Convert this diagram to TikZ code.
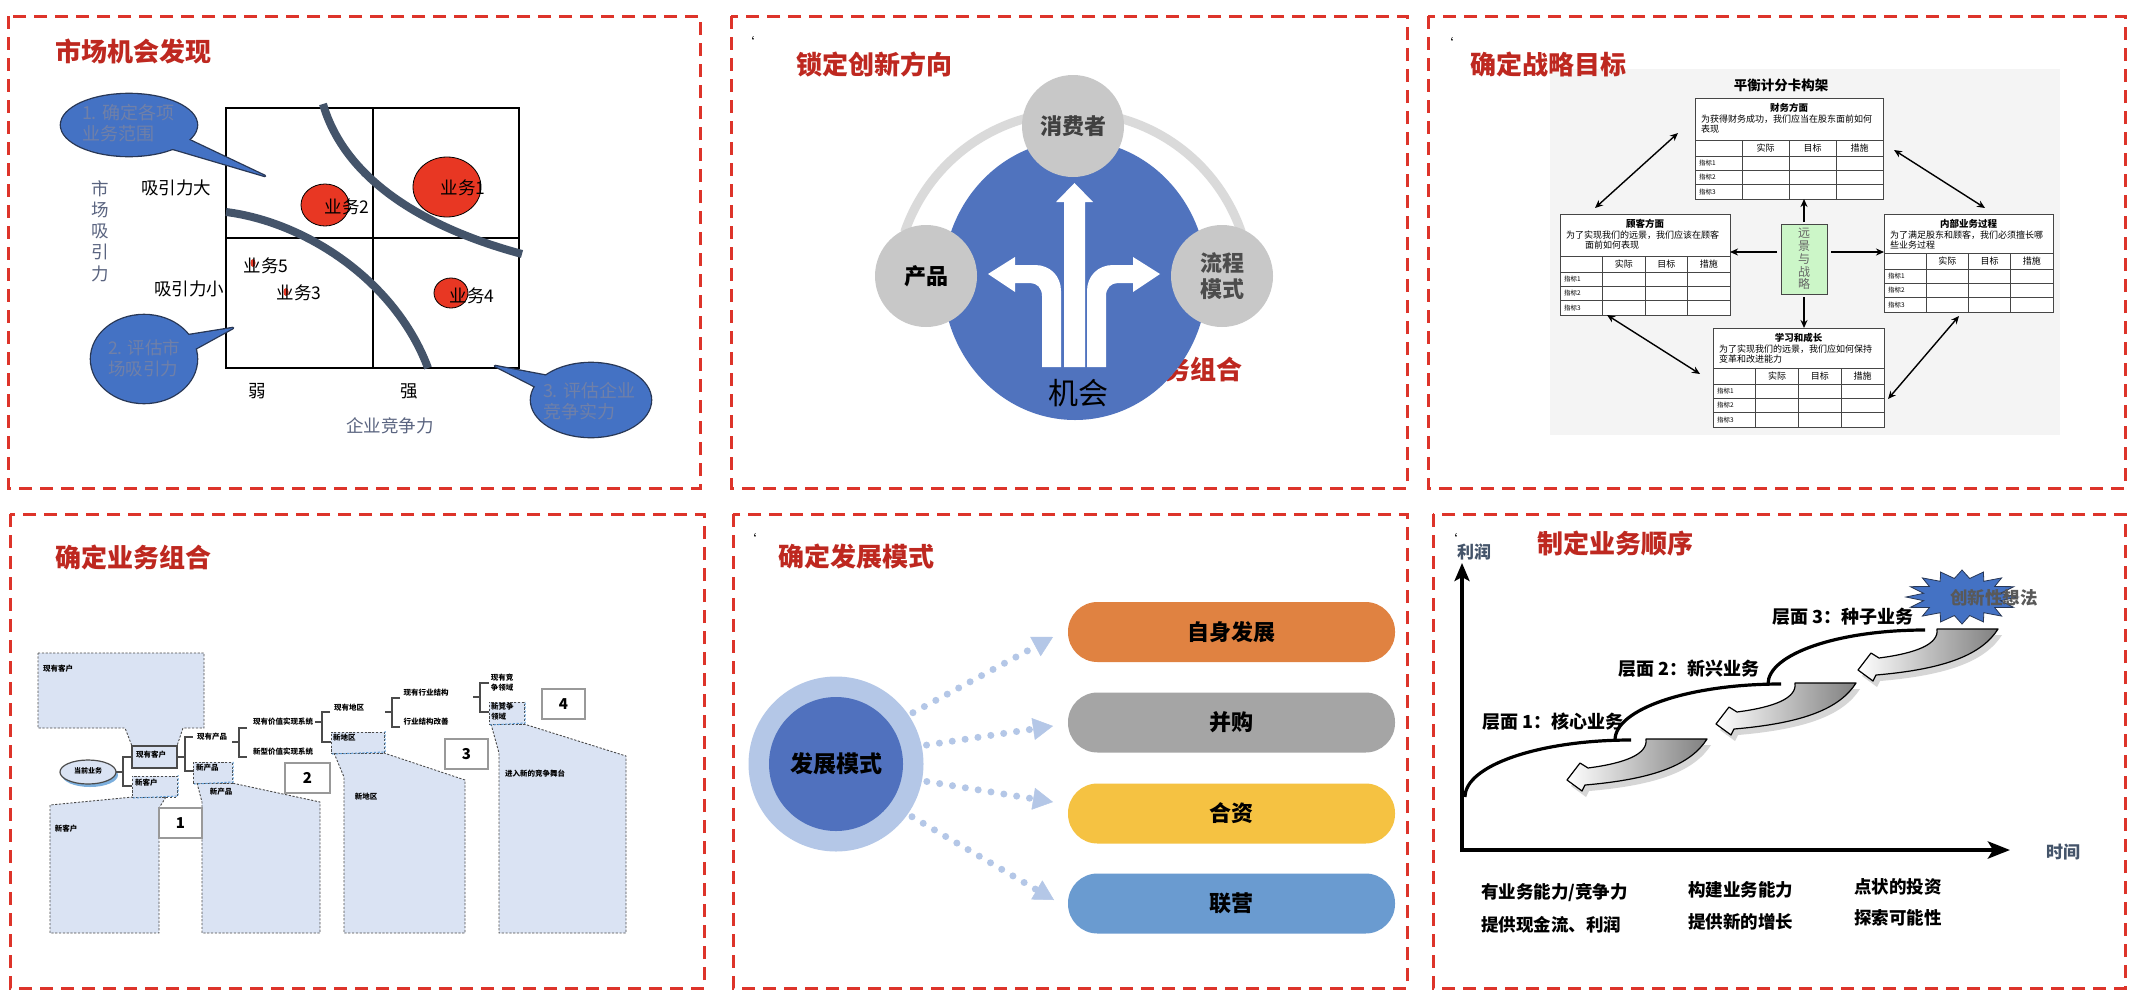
\documentclass[tikz,border=0pt]{standalone}
\usepackage{fontspec}
\setmainfont{Noto Sans CJK SC}
\usetikzlibrary{arrows.meta}
\definecolor{dashred}{RGB}{221,52,42}
\definecolor{ttlred}{RGB}{190,40,32}
\definecolor{slate}{RGB}{68,84,106}
\definecolor{slatetxt}{RGB}{90,100,128}
\definecolor{bubblue}{RGB}{68,114,196}
\definecolor{bubline}{RGB}{40,55,85}
\definecolor{bubtxt}{RGB}{112,128,168}
\definecolor{bizred}{RGB}{232,55,35}
\definecolor{oppblue}{RGB}{80,115,190}
\definecolor{cgray}{RGB}{200,200,200}
\definecolor{arcgray}{RGB}{218,218,218}
\definecolor{bscbg}{RGB}{244,244,244}
\definecolor{bscline}{RGB}{70,70,70}
\definecolor{bscgreen}{RGB}{204,246,200}
\definecolor{lblue}{RGB}{218,227,243}
\definecolor{dline}{RGB}{75,75,75}
\definecolor{edgeblue}{RGB}{91,155,213}
\definecolor{ringblue}{RGB}{180,199,231}
\definecolor{coreblue}{RGB}{80,113,190}
\definecolor{porange}{RGB}{224,130,65}
\definecolor{pgray}{RGB}{165,165,165}
\definecolor{pyellow}{RGB}{245,194,66}
\definecolor{pblue}{RGB}{106,155,208}
\definecolor{burst}{RGB}{68,114,196}
\newcommand\fs[1]{\fontsize{#1}{#1}\selectfont}
\newcommand\bscbox[7]{%
  \node[draw=bscline, line width=1pt, fill=white, anchor=north west,
        minimum width=#3pt, minimum height={(#4+59)*1pt}] (#5) at (#1,#2) {};
  \draw[bscline, line width=0.9pt]
    (#1,{#2+#4}) -- ++(#3,0)
    (#1,{#2+#4+16}) -- ++(#3,0)
    (#1,{#2+#4+30.3}) -- ++(#3,0)
    (#1,{#2+#4+44.6}) -- ++(#3,0)
    ({#1+#3/4},{#2+#4}) -- ++(0,59)
    ({#1+#3/2},{#2+#4}) -- ++(0,59)
    ({#1+3*#3/4},{#2+#4}) -- ++(0,59);
  \node[font=\bfseries\fs{9.5}] at ({#1+#3/2},{#2+10}) {#6};
  \node[font=\fontsize{9}{10.5}\selectfont, anchor=north west, align=left] at ({#1+6},{#2+16.5}) {#7};
  \node[font=\fs{9}] at ({#1+3*#3/8},{#2+#4+8}) {实际};
  \node[font=\fs{9}] at ({#1+5*#3/8},{#2+#4+8}) {目标};
  \node[font=\fs{9}] at ({#1+7*#3/8},{#2+#4+8}) {措施};
  \node[font=\fs{6.5}, anchor=west] at ({#1+4},{#2+#4+23.2}) {指标1};
  \node[font=\fs{6.5}, anchor=west] at ({#1+4},{#2+#4+37.5}) {指标2};
  \node[font=\fs{6.5}, anchor=west] at ({#1+4},{#2+#4+51.8}) {指标3};
}
\newcommand\swoop[2]{%
  \begin{scope}[shift={({#1+4},{#2+6})}]
    \fill[black!16] (0,0) -- (61,0) .. controls (45,25) and (10,40) .. (-61,46) -- (-64,52) -- (-79,41) -- (-66,24) -- (-58,29) .. controls (-20,24) and (2,15) .. (0,0) -- cycle;
  \end{scope}
  \begin{scope}[shift={(#1,#2)}]
    \shadedraw[left color=white, middle color=white, right color=black!50, draw=black, line width=1.2pt, line join=round]
      (0,0) -- (61,0) .. controls (45,25) and (10,40) .. (-61,46) -- (-64,52) -- (-79,41) -- (-66,24) -- (-58,29) .. controls (-20,24) and (2,15) .. (0,0) -- cycle;
  \end{scope}
}
\tikzset{
  panel/.style={draw=dashred, line width=3pt, dash pattern=on 13pt off 8pt},
  ttl/.style={text=ttlred, font=\bfseries\fs{26}},
  tck/.style={font=\fs{13}},
  lbl/.style={font=\fs{17.5}},
  slbl/.style={font=\fs{17.5}, text=slatetxt},
  bubtext/.style={font=\fontsize{18}{21}\selectfont, text=bubtxt, align=left, anchor=north west},
  slatecurve/.style={slate, line width=8pt},
  bizdot/.style={fill=bizred, draw=black, line width=0.8pt},
  gcirc/.style={circle, fill=cgray, minimum size=102pt, font=\bfseries\fs{22}},
  bscarrow/.style={black, line width=1.4pt, -{Stealth[length=8pt,width=7pt]}},
  bscdarrow/.style={black, line width=1.4pt, {Stealth[length=8pt,width=7pt]}-{Stealth[length=8pt,width=7pt]}},
  dsh/.style={dline, line width=0.9pt, dash pattern=on 2.2pt off 1.6pt},
  sbox/.style={draw=dline, line width=1.5pt, fill=lblue},
  dbox/.style={draw=dline, dash pattern=on 2.2pt off 1.6pt, line width=0.9pt, fill=lblue, anchor=north west},
  bedge/.style={edgeblue, line width=1pt, dash pattern=on 2.2pt off 1.6pt},
  numbox/.style={draw=black!40, line width=1.5pt, fill=white, font=\bfseries\fs{15}},
  tiny/.style={font=\bfseries\fs{7.5}},
  brk/.style={dline, line width=1.4pt},
  pill/.style={rounded corners=29.5pt, minimum width=327pt, minimum height=60pt, font=\bfseries\fs{22}},
  dotarr/.style={ringblue, line width=7pt, line cap=round, dash pattern=on 0pt off 13pt, shorten <=5pt,
     -{Triangle[length=20pt,width=22pt,line width=0.5pt]}},
  axis/.style={black, line width=4.5pt},
  lvl/.style={font=\bfseries\fs{18}},
  btm/.style={font=\bfseries\fs{17.5}, anchor=west},
}
\begin{document}
\begin{tikzpicture}[x=1pt,y=-1pt, every node/.style={inner sep=0pt, outer sep=0pt}]
\useasboundingbox (0,0) rectangle (2132,1004);
\fill[white] (0,0) rectangle (2132,1004);

% ================= panel borders
\draw[panel] (8,16) rectangle (700,488);
\draw[panel] (731,16) rectangle (1407,488);
\draw[panel] (1428,16) rectangle (2125,488);
\draw[panel] (10,514) rectangle (704,988);
\draw[panel] (733,514) rectangle (1407,988);
\draw[panel] (1433,514) rectangle (2125,988);

% ================= panel 1
\draw[line width=2pt] (226,108) rectangle (519,368);
\draw[line width=2pt] (373,108) -- (373,368) (226,238) -- (519,238);
\fill[bizred] (253,263) ellipse[x radius=2.5, y radius=4];
\fill[bizred] (286,292) ellipse[x radius=2.5, y radius=4];
\draw[bizdot] (447,187) ellipse[x radius=34, y radius=30];
\draw[bizdot] (325,205) ellipse[x radius=24, y radius=21];
\draw[bizdot] (451,293) ellipse[x radius=17, y radius=15];
\draw[slatecurve] (323,104) .. controls (345,180) and (425,228) .. (522,254);
\draw[slatecurve] (226,212) .. controls (305,222) and (395,280) .. (428,368);
\node[lbl] (b1) at (463,188) {业务1};
\node[lbl] (b2) at (347,207) {业务2};
\node[lbl] (b5) at (266,266) {业务5};
\node[lbl] (b3) at (299,293) {业务3};
\node[lbl] (b4) at (472,296) {业务4};
\node[lbl] (hi) at (176,188) {吸引力大};
\node[lbl] (lo) at (189,289) {吸引力小};
\node[lbl] (weak) at (257,391) {弱};
\node[lbl] (strong) at (409,391) {强};
\node[font=\fontsize{17.5}{21.3}\selectfont, text=slatetxt, align=center] (ya) at (100,231) {市\\场\\吸\\引\\力};
\node[slbl] (xa) at (390,426) {企业竞争力};
% bubbles
\draw[bubline, line width=2.6pt] (129,125) ellipse[x radius=68, y radius=31];
\draw[bubline, line width=2.6pt, line join=round] (185,138) -- (265,176) -- (170,148) -- cycle;
\fill[bubblue] (129,125) ellipse[x radius=68, y radius=31];
\fill[bubblue] (185,138) -- (265,176) -- (170,148) -- cycle;
\node[bubtext] (q1) at (82,104) {1. 确定各项\\业务范围};
\draw[bubline, line width=2.6pt] (144,359) ellipse[x radius=53, y radius=44];
\draw[bubline, line width=2.6pt, line join=round] (183,336) -- (233,328) -- (193,350) -- cycle;
\fill[bubblue] (144,359) ellipse[x radius=53, y radius=44];
\fill[bubblue] (183,336) -- (233,328) -- (193,350) -- cycle;
\node[bubtext, font=\fontsize{17.5}{21}\selectfont] (q2) at (108,340) {2. 评估市\\场吸引力};
\draw[bubline, line width=2.6pt] (591,400) ellipse[x radius=60, y radius=37];
\draw[bubline, line width=2.6pt, line join=round] (548,376) -- (495,366) -- (538,388) -- cycle;
\fill[bubblue] (591,400) ellipse[x radius=60, y radius=37];
\fill[bubblue] (548,376) -- (495,366) -- (538,388) -- cycle;
\node[bubtext] (q3) at (543,382) {3. 评估企业\\竞争实力};

% ================= panel 2
\node[text=ttlred, font=\bfseries\fs{26}, anchor=east] (hid) at (1242,370) {务组合};
\draw[arcgray, line width=9pt] (1073,290) ++(199:178) arc[start angle=199, end angle=341, radius=178];
\fill[oppblue] (1075,280) ellipse[x radius=132, y radius=140];
\node[gcirc, text=black!75] (cons) at (1073,126) {消费者};
\node[gcirc, text=black] (prod) at (926,276) {产品};
\node[gcirc, text=black!70, align=center, font=\bfseries\fontsize{22}{26}\selectfont] (proc) at (1222,276) {流程\\模式};
\fill[white] (1042,367) -- (1042,296) .. controls (1042,288) and (1037,283) .. (1030,283) -- (1015,283) -- (1015,292) -- (988,274) -- (1015,257) -- (1015,265) -- (1035,265) .. controls (1050,265) and (1061,276) .. (1061,291) -- (1061,367) -- cycle;
\fill[white] (1106,367) -- (1106,296) .. controls (1106,288) and (1111,283) .. (1118,283) -- (1133,283) -- (1133,292) -- (1160,274) -- (1133,257) -- (1133,265) -- (1113,265) .. controls (1098,265) and (1087,276) .. (1087,291) -- (1087,367) -- cycle;
\fill[white] (1064,367) -- (1064,202) -- (1056,202) -- (1074.5,183) -- (1093,202) -- (1085,202) -- (1085,367) -- cycle;
\node[font=\fs{30}] (opp) at (1078,393) {机会};

% ================= panel 3
\fill[bscbg] (1550,69) rectangle (2060,435);
\node[font=\bfseries\fs{13.5}] (bsct) at (1781,85) {平衡计分卡构架};
\bscbox{1695}{98}{188}{42}{fin}{财务方面}{为获得财务成功，我们应当在股东面前如何\\表现}
\bscbox{1560}{214}{170}{42}{cus}{顾客方面}{为了实现我们的远景，我们应该在顾客\\\hspace*{19pt}面前如何表现}
\bscbox{1884}{214}{169}{39}{int}{内部业务过程}{为了满足股东和顾客，我们必须擅长哪\\些业务过程}
\bscbox{1713}{328}{171}{40}{lea}{学习和成长}{为了实现我们的远景，我们应如何保持\\变革和改进能力}
\node[draw=bscline, fill=bscgreen, line width=1pt, minimum width=46pt, minimum height=70pt,
      font=\fontsize{12}{12.8}\selectfont, text=black!60, align=center] (vis) at (1804,259) {远\\景\\与\\战\\略};
\draw[bscarrow] (vis.north) ++(0,-2) -- (vis.north |- fin.south);
\draw[bscarrow] ([yshift=7pt]vis.west) ++(-4,0) -- ([yshift=7pt]vis.west -| cus.east);
\draw[bscarrow] ([yshift=7pt]vis.east) ++(4,0) -- ([yshift=7pt]vis.east -| int.west);
\draw[bscarrow] (vis.south) ++(0,3) -- (vis.south |- lea.north);
\coordinate (c1) at (1595,208); \coordinate (c2) at (1678,133);
\coordinate (c3) at (1894,150); \coordinate (c4) at (1985,208);
\coordinate (c5) at (1607,315); \coordinate (c6) at (1700,374);
\coordinate (c7) at (1959,316); \coordinate (c8) at (1888,399);
\draw[bscdarrow] (c1) -- (c2);
\draw[bscdarrow] (c3) -- (c4);
\draw[bscdarrow] (c5) -- (c6);
\draw[bscdarrow] (c7) -- (c8);

% ================= panel 4
\draw[dsh, fill=lblue] (38,653) -- (204,653) -- (204,728) -- (183,728) -- (177,746) -- (132,746) -- (125,728) -- (38,728) -- cycle;
\draw[dsh, fill=lblue] (133,797) -- (50,805) -- (50,933) -- (159,933) -- (159,808) -- (166,797) -- cycle;
\draw[dsh, fill=lblue] (197,783) -- (202,802) -- (202,933) -- (320,933) -- (320,802) -- (232,783) -- cycle;
\draw[dsh, fill=lblue] (334,753) -- (344,777) -- (344,933) -- (465,933) -- (465,780) -- (384,753) -- cycle;
\draw[dsh, fill=lblue] (491,724) -- (499,753) -- (499,933) -- (626,933) -- (626,756) -- (524,724) -- cycle;
% boxes
\node[sbox, minimum width=45pt, minimum height=22pt, anchor=north west] (xk) at (132,746) {};
\node[tiny] at (151,755) {现有客户};
\node[dbox, minimum width=45pt, minimum height=21pt] (nk) at (132,776) {};
\node[dbox, minimum width=39pt, minimum height=21pt] (np) at (193,762) {};
\node[dbox, minimum width=53pt, minimum height=21pt] (nr) at (331,732) {};
\node[dbox, minimum width=35pt, minimum height=22pt] (nc) at (489,702) {};
\draw[bedge] (nk.south west) ++(1,1) -- ([shift={(1,-1)}]nk.south east) -- ([shift={(1,-1)}]nk.north east);
\draw[bedge] (np.south west) ++(1,1) -- ([shift={(1,-1)}]np.south east) -- ([shift={(1,-1)}]np.north east);
\draw[bedge] (nr.south west) ++(1,1) -- ([shift={(1,-1)}]nr.south east) -- ([shift={(1,-1)}]nr.north east);
\draw[bedge] (nc.south west) ++(1,1) -- ([shift={(1,-1)}]nc.south east) -- ([shift={(1,-1)}]nc.north east);
\node[tiny, anchor=north west] at (135,779) {新客户};
\node[tiny, anchor=north west] at (196,764) {新产品};
\node[tiny, anchor=north west] at (333,734) {新地区};
\node[tiny, anchor=north west, align=left, font=\bfseries\fontsize{7.5}{10}\selectfont] at (491,703) {新竞争\\领域};
% oval
\fill[edgeblue!80] (90,775) ellipse[x radius=28, y radius=12];
\draw[dline, line width=1.2pt, fill=lblue] (88,772) ellipse[x radius=28, y radius=12];
\node[tiny, font=\bfseries\fs{7}] (cur) at (88,771) {当前业务};
% brackets
\draw[brk] (116,772) -- (123,772) (132,757) -- (123,757) -- (123,786) -- (132,786);
\draw[brk] (177,757) -- (185,757) (193,737) -- (185,737) -- (185,771) -- (193,771);
\draw[brk] (232,742) -- (239,742) (247,728) -- (239,728) -- (239,757) -- (247,757);
\draw[brk] (315,722) -- (322,722) (330,712) -- (322,712) -- (322,742) -- (331,742);
\draw[brk] (385,712) -- (392,712) (400,698) -- (392,698) -- (392,727) -- (400,727);
\draw[brk] (473,697) -- (480,697) (489,683) -- (480,683) -- (480,712) -- (489,712);
% labels
\node[tiny] at (58,669) {现有客户};
\node[tiny] at (66,829) {新客户};
\node[tiny] at (221,792) {新产品};
\node[tiny] at (366,797) {新地区};
\node[tiny] at (535,774) {进入新的竞争舞台};
\node[tiny] at (212,737) {现有产品};
\node[tiny] at (283,722) {现有价值实现系统};
\node[tiny] at (283,752) {新型价值实现系统};
\node[tiny] at (349,708) {现有地区};
\node[tiny] at (426,693) {现有行业结构};
\node[tiny] at (426,722) {行业结构改善};
\node[tiny, align=center, font=\bfseries\fontsize{7.5}{10}\selectfont] at (502,683) {现有竞\\争领域};
% number boxes
\node[numbox, minimum width=43pt, minimum height=30pt] (n1) at (180.5,823) {1};
\node[numbox, minimum width=45pt, minimum height=30pt] (n2) at (307.5,778) {2};
\node[numbox, minimum width=43pt, minimum height=30pt] (n3) at (466.5,754) {3};
\node[numbox, minimum width=43pt, minimum height=30pt] (n4) at (563.5,704) {4};

% ================= panel 5
\node[circle, fill=ringblue, minimum size=175pt] (ring) at (836,764) {};
\node[circle, fill=coreblue, minimum size=134pt, font=\bfseries\fs{23}] (core) at (836,764) {发展模式};
\node[pill, fill=porange] (zs) at (1231.5,632) {自身发展};
\node[pill, fill=pgray] (bg) at (1231.5,722.5) {并购};
\node[pill, fill=pyellow] (hz) at (1231.5,813.5) {合资};
\node[pill, fill=pblue] (ly) at (1231.5,903.5) {联营};
\coordinate (e1) at (1053,637);
\coordinate (e2) at (1053,726);
\coordinate (e3) at (1053,802);
\coordinate (e4) at (1054,900);
\draw[dotarr] (ring.34) -- (e1);
\draw[dotarr] (ring.12) -- (e2);
\draw[dotarr] (ring.-11) -- (e3);
\draw[dotarr] (ring.-35) -- (e4);

% ================= panel 6
\coordinate (O) at (1462,850);
\coordinate (Ytop) at (1462,563);
\coordinate (Xend) at (2010,850);
\draw[axis, -{Stealth[length=18pt,width=15pt,inset=4pt]}] ([yshift=-2pt]O) -- (Ytop);
\draw[axis, -{Stealth[length=22pt,width=17pt,inset=5pt]}] ([xshift=-2pt]O) -- (Xend);
\node[font=\bfseries\fs{17}, text=slate] (yl) at (1474,552) {利润};
\node[font=\bfseries\fs{17}, text=slate] (xl) at (2063,852) {时间};
\swoop{1646}{739}
\swoop{1795}{683}
\swoop{1937}{629}
\draw[black, line width=3.2pt] (1465,797) .. controls (1465,765.5) and (1539,740) .. (1631,740);
\draw[black, line width=3.2pt] (1615,740) .. controls (1615,709) and (1689,684) .. (1781,684);
\draw[black, line width=3.2pt] (1768,684) .. controls (1768,654) and (1838,630) .. (1925,630);
\draw[fill=burst, draw=bubline, line width=0.8pt]
  (2018,597) \foreach \i in {1,...,31} { -- ({1962+56*(1-0.3*mod(\i,2))*cos(\i*11.25)},{597+27*(1-0.3*mod(\i,2))*sin(\i*11.25)}) } -- cycle;
\node[font=\bfseries\fs{17.5}, text=black!65] (idea) at (1994,598) {创新性想法};
\node[lvl] (l1) at (1553,722) {层面 1：核心业务};
\node[lvl] (l2) at (1689,669) {层面 2：新兴业务};
\node[lvl] (l3) at (1843,617) {层面 3：种子业务};
\node[btm] at (1481,893) {有业务能力/竞争力};
\node[btm] at (1481,925) {提供现金流、利润};
\node[btm] at (1688,890) {构建业务能力};
\node[btm] at (1688,922) {提供新的增长};
\node[btm] at (1854,887) {点状的投资};
\node[btm] at (1854,918) {探索可能性};

% ================= titles (on top)
\node[ttl] (t1) at (133,51) {市场机会发现};
\node[ttl] (t2) at (874,64) {锁定创新方向};
\node[ttl] (t3) at (1548,64) {确定战略目标};
\node[ttl] (t4) at (133,557) {确定业务组合};
\node[ttl] (t5) at (856,557) {确定发展模式};
\node[ttl] (t6) at (1615,544) {制定业务顺序};
\node[tck] (k2) at (748,42) {\symbol{96}};
\node[tck] (k3) at (1447,43) {\symbol{96}};
\node[tck] (k5) at (750,539) {\symbol{96}};
\node[tck] (k6) at (1451,539) {\symbol{96}};
\end{tikzpicture}
\end{document}
